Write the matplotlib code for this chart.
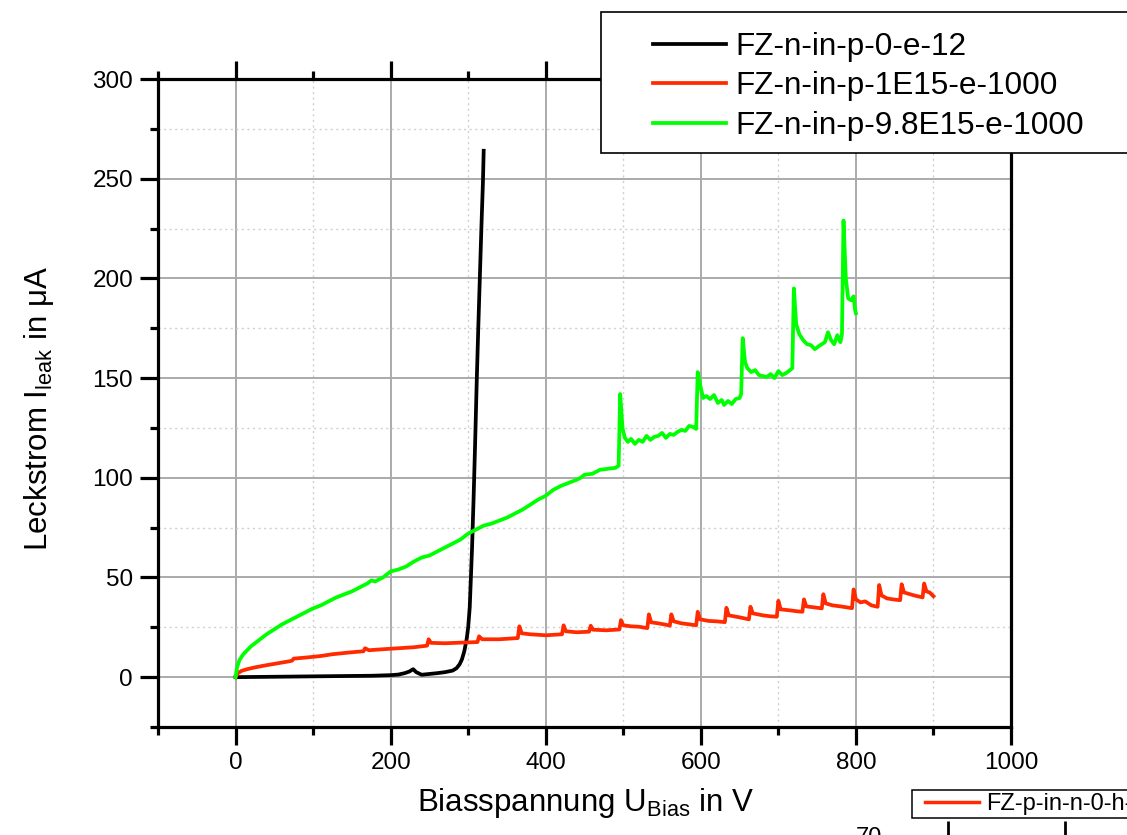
import matplotlib
matplotlib.use("Agg")
import matplotlib.pyplot as plt
from matplotlib.patches import Rectangle
from matplotlib.ticker import MultipleLocator

plt.rcParams["font.family"] = ["Liberation Sans", "DejaVu Sans"]
plt.rcParams["mathtext.fontset"] = "custom"
plt.rcParams["mathtext.rm"] = "Liberation Sans"
plt.rcParams["mathtext.it"] = "Liberation Sans:italic"

# --- measured IV curves (bias voltage in V, leakage current in uA) ---
v_ref = [0, 25, 50, 75, 100, 125, 150, 175, 200, 210, 218, 224, 229, 233, 240,
         250, 260, 270, 280, 285, 289, 292, 295, 298, 300, 302, 303, 305, 307,
         309, 311, 313, 315, 317, 319, 320]
i_ref = [0, 0.1, 0.2, 0.3, 0.4, 0.5, 0.6, 0.7, 1.0, 1.3, 2.0, 2.8, 4.0, 2.5, 1.2,
         1.6, 2.0, 2.5, 3.3, 4.5, 6.5, 9.0, 13, 19, 25, 35, 45, 65, 90,
         118, 148, 175, 200, 225, 248, 264]

v_1e15 = [0, 3, 8, 15, 25, 40, 55, 70, 73, 75, 90, 110, 125, 145, 165, 167, 172,
          190, 210, 230, 247, 249, 252, 270, 290, 312, 314, 318, 340, 364, 366,
          369, 380, 400, 421, 423, 426, 440, 456, 458, 461, 478, 495, 497, 500,
          510, 520, 531, 533, 536, 545, 555, 560, 562, 565, 575, 585, 594, 596,
          599, 610, 620, 631, 633, 636, 650, 662, 664, 667, 680, 690, 698, 700,
          703, 715, 725, 731, 733, 736, 750, 756, 758, 761, 770, 780, 795, 797,
          800, 806, 812, 820, 828, 830, 833, 840, 848, 857, 859, 862, 875, 886,
          888, 891, 895, 900]
i_1e15 = [0, 2.0, 3.2, 4.0, 4.9, 6.0, 7.0, 8.0, 8.3, 9.3, 9.8, 10.6, 11.5, 12.3,
          13.0, 14.5, 13.5, 14.0, 14.5, 15.0, 15.8, 19.0, 17.2, 17.0, 17.3, 17.6,
          20.5, 19.0, 19.0, 19.6, 25.5, 22.0, 21.5, 21.0, 21.5, 26.0, 23.0, 22.5,
          22.8, 25.8, 23.8, 23.5, 23.9, 28.6, 26.0, 25.5, 25.3, 24.6, 31.5, 27.5,
          27.0, 26.3, 25.8, 31.5, 28.0, 27.0, 26.5, 26.0, 32.8, 29.0, 28.2, 28.0,
          27.6, 34.8, 31.0, 30.0, 29.0, 35.3, 32.0, 31.0, 30.5, 30.3, 38.3, 34.0,
          33.5, 33.0, 32.8, 39.0, 35.5, 34.8, 34.5, 41.6, 37.0, 36.0, 35.5, 34.6,
          44.0, 39.0, 37.5, 38.0, 36.0, 35.3, 46.2, 41.0, 39.5, 39.0, 38.6, 46.6,
          42.5, 41.0, 40.0, 47.0, 43.0, 42.5, 40.6]

v_98e15 = [0, 2, 5, 10, 15, 20, 30, 40, 50, 60, 70, 80, 90, 100, 110, 120, 130,
           140, 150, 160, 170, 175, 180, 190, 200, 210, 220, 230, 240, 250, 260,
           270, 280, 290, 300, 310, 320, 330, 340, 350, 360, 370, 380, 390, 400,
           410, 420, 430, 440, 445, 450, 460, 470, 480, 490, 494, 496, 499, 502,
           506, 510, 515, 520, 525, 530, 535, 540, 545, 550, 555, 560, 565, 570,
           575, 580, 585, 590, 594, 596, 600, 603, 607, 612, 617, 622, 627, 630,
           635, 640, 645, 650, 652, 654, 657, 660, 665, 670, 675, 680, 685, 690,
           695, 700, 705, 710, 715, 718, 720, 723, 727, 732, 737, 742, 747, 752,
           756, 760, 764, 768, 772, 776, 780, 782, 784, 787, 790, 794, 797, 799,
           800]
i_98e15 = [0, 5, 8.5, 11.5, 13.5, 15.5, 18.5, 21.5, 24, 26.5, 28.5, 30.5, 32.5,
           34.5, 36, 38, 40, 41.5, 43, 45, 47, 48.5, 48, 50, 53, 54, 55.5, 58, 60,
           61, 63, 65, 67, 69, 72, 74, 76, 77, 78.5, 80, 82, 84, 86.5, 89, 91, 94,
           96, 97.5, 99, 100, 101.5, 102, 104, 104.5, 105, 106, 142, 125, 120, 118,
           119.5, 117, 119, 118, 121, 119, 120.5, 121, 122.5, 120, 122, 121.5,
           123, 124, 123.5, 126, 125.5, 124.5, 153, 145, 140, 141, 139.5, 141.5,
           137.5, 139, 136.5, 138.5, 137, 139.5, 140, 142, 170, 158, 155, 153,
           154, 151.5, 151, 150.5, 152, 150, 153.5, 151.5, 152.5, 154, 155, 195,
           177, 172, 169, 167, 166.5, 164.5, 166, 167, 168, 173, 169, 167, 171.5,
           168, 172, 229, 200, 190, 189, 191, 184, 182.5]

labels = ["FZ-n-in-p-0-e-12", "FZ-n-in-p-1E15-e-1000", "FZ-n-in-p-9.8E15-e-1000"]
colors = ["#000000", "#ff2a00", "#00ff00"]

W, H = 1127, 835
fig = plt.figure(figsize=(W / 100, H / 100), dpi=100)
ax = fig.add_axes([158 / W, 1 - 727 / H, (1011 - 158) / W, (727 - 79) / H])

lines = []
for v, i, c, lab in zip([v_ref, v_1e15, v_98e15], [i_ref, i_1e15, i_98e15],
                        colors, labels):
    ln, = ax.plot(v, i, color=c, lw=2.7, label=lab, solid_joinstyle="round")
    lines.append(ln)

ax.set_xlim(-100, 1000)
ax.set_ylim(-25, 300)
ax.xaxis.set_major_locator(MultipleLocator(200))
ax.xaxis.set_minor_locator(MultipleLocator(100))
ax.yaxis.set_major_locator(MultipleLocator(50))
ax.yaxis.set_minor_locator(MultipleLocator(25))

ax.set_axisbelow(True)
ax.grid(which="major", color="#aaaaaa", lw=1.4, ls="-")
ax.grid(which="minor", color="#d0d0d0", lw=1.0, ls=(0, (1.5, 2.5)))

for s in ax.spines.values():
    s.set_linewidth(2.3)
    s.set_color("black")
ax.tick_params(which="major", direction="out", length=13, width=2.3,
               labelsize=17.5, pad=5, top=True, right=False)
ax.tick_params(which="minor", direction="out", length=6, width=2.3,
               top=True, right=False)

ax.set_xlabel("Biasspannung U$_{\\mathrm{Bias}}$ in V", fontsize=22.5)
ax.set_ylabel("Leckstrom I$_{\\mathrm{leak}}$ in μA", fontsize=22.5)
ax.xaxis.set_label_coords((586 - 158) / 853, (727 - 786) / 648)
ax.yaxis.set_label_coords((56 - 158) / 853, (727 - 408) / 648)

# legend box in the upper right, overlapping the plot frame
fig.add_artist(Rectangle((601 / W, 1 - 153 / H), 0.6, (153 - 12) / H,
                         transform=fig.transFigure, facecolor="white",
                         edgecolor="black", lw=1.2, zorder=5))
leg = fig.legend(lines, labels, loc="upper left",
                 bbox_to_anchor=(653 / W, 1 - 32 / H), frameon=False,
                 fontsize=22.7, handlelength=2.3, handletextpad=0.3,
                 labelspacing=0.3, borderpad=0, borderaxespad=0)
leg.set_zorder(6)

# top edge of the next panel below
ax2 = fig.add_axes([898 / W, -0.4, 0.3, 0.4 - 1 / H])
ax2.set_xlim(-50 / 117, (0.3 * W - 50) / 117)
ax2.set_ylim(0, 70)
ax2.xaxis.set_major_locator(MultipleLocator(1))
ax2.set_yticks([70])
ax2.tick_params(axis="x", which="both", top=True, bottom=False,
                labeltop=False, labelbottom=False, direction="out",
                length=11, width=2)
ax2.tick_params(axis="y", direction="out", length=8, width=2, labelsize=17)
frag, = ax2.plot([], [], color="#ff2a00", lw=2.5, label="FZ-p-in-n-0-h-12")
fig.add_artist(Rectangle((912 / W, 1 - 818 / H), 0.3, 28 / H,
                         transform=fig.transFigure, facecolor="white",
                         edgecolor="black", lw=1.1, zorder=5))
leg2 = fig.legend([frag], ["FZ-p-in-n-0-h-12"], loc="center left",
                  bbox_to_anchor=(925 / W, 1 - 804 / H), frameon=False,
                  fontsize=17, handlelength=2.3, handletextpad=0.3,
                  borderpad=0, borderaxespad=0)
leg2.set_zorder(6)

fig.savefig("out.png", dpi=100)
